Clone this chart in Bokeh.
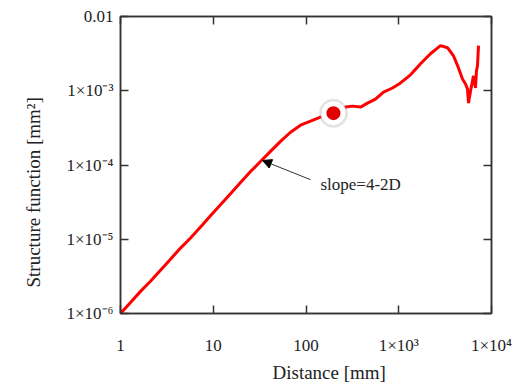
from bokeh.plotting import figure
from bokeh.models import LogAxis, FixedTicker, Arrow, NormalHead, Label, Title
from bokeh.embed import file_html
from bokeh.resources import INLINE

# ---- data ----
distance_mm = [1.0, 1.282, 1.644, 2.104, 2.698, 3.459, 4.436, 5.689, 7.295, 9.333,
               11.97, 15.35, 19.68, 25.23, 32.28, 41.40, 53.09, 68.08, 87.30, 111.9,
               143.2, 197.7, 266.7, 317.0, 387.3, 460.3, 561.0, 685.5, 857.0, 1045,
               1340, 1718, 2198, 2818, 3357, 3890, 4406, 4864, 5248, 5508,
               5649, 5943, 6237, 6397, 6714, 6887, 7063, 7244]
structure_fn = [1.0e-6, 1.409e-6, 1.986e-6, 2.716e-6, 3.828e-6, 5.395e-6, 7.603e-6, 1.040e-5, 1.466e-5, 2.065e-5,
                2.911e-5, 4.111e-5, 5.794e-5, 8.166e-5, 1.114e-4, 1.524e-4, 2.084e-4, 2.761e-4, 3.436e-4, 3.890e-4,
                4.406e-4, 4.989e-4, 6.026e-4, 6.209e-4, 6.026e-4, 6.823e-4, 7.727e-4, 9.616e-4, 1.089e-3, 1.274e-3,
                1.637e-3, 2.307e-3, 3.148e-3, 4.046e-3, 3.802e-3, 2.958e-3, 2.032e-3, 1.442e-3, 1.236e-3, 1.057e-3,
                6.823e-4, 9.931e-4, 1.355e-3, 1.585e-3, 1.089e-3, 1.854e-3, 2.168e-3, 4.046e-3]

marker_x = [197.7]
marker_y = [4.989e-4]

x_ticks = [1, 10, 100, 1000, 10000]
x_tick_labels = ["1", "10", "100", "1×10³", "1×10⁴"]
y_ticks = [1e-6, 1e-5, 1e-4, 1e-3, 1e-2]
y_tick_labels = ["1×10⁻⁶", "1×10⁻⁵", "1×10⁻⁴", "1×10⁻³", "0.01"]

x_title = "Distance [mm]"
y_title = "Structure function [mm²]"

arrow_start = (111.8, 6.35e-5)
arrow_end = (34.0, 1.15e-4)
note_pos = (143.0, 5.44e-5)
note_text = "slope=4-2D"

FONT = "Liberation Serif"
AXC = "#333333"
TXT = "#222222"

p = figure(width=519, height=385, x_axis_type="log", y_axis_type="log",
           x_range=(1, 10000), y_range=(1e-6, 1e-2),
           output_backend="svg", toolbar_location=None,
           min_border_left=120, min_border_right=28, min_border_top=16, min_border_bottom=72,
           background_fill_color="white", border_fill_color="white")
p.grid.visible = False
p.outline_line_color = AXC
p.outline_line_width = 1.5

p.xaxis.ticker = FixedTicker(ticks=x_ticks)
p.yaxis.ticker = FixedTicker(ticks=y_ticks)
p.xaxis.major_label_overrides = {t: l for t, l in zip(x_ticks, x_tick_labels)}
p.yaxis.major_label_overrides = {t: l for t, l in zip(y_ticks, y_tick_labels)}

for ax in (p.xaxis[0], p.yaxis[0]):
    ax.major_tick_in = 8
    ax.major_tick_out = 0
    ax.minor_tick_line_color = None
    ax.axis_line_color = AXC
    ax.axis_line_width = 1.5
    ax.major_tick_line_color = AXC
    ax.major_tick_line_width = 1.5
    ax.major_label_text_font = FONT
    ax.major_label_text_font_size = "17px"
    ax.major_label_text_color = TXT
p.xaxis.major_label_standoff = 22
p.yaxis.major_label_standoff = 7

top = LogAxis(ticker=FixedTicker(ticks=x_ticks))
right = LogAxis(ticker=FixedTicker(ticks=y_ticks))
for ax in (top, right):
    ax.major_tick_in = 8
    ax.major_tick_out = 0
    ax.minor_tick_line_color = None
    ax.axis_line_color = AXC
    ax.axis_line_width = 1.5
    ax.major_tick_line_color = AXC
    ax.major_tick_line_width = 1.5
    ax.major_label_text_font_size = "1px"
    ax.major_label_text_alpha = 0
    ax.major_label_standoff = 0
p.add_layout(top, "above")
p.add_layout(right, "right")

# axis titles, shifted along their axes as in the reference
p.add_layout(Title(text=x_title, align="left", offset=152, standoff=4,
                   text_font=FONT, text_font_size="19px", text_font_style="normal",
                   text_color=TXT), "below")
p.add_layout(Title(text=y_title, align="left", offset=26, standoff=40,
                   text_font=FONT, text_font_size="19px", text_font_style="normal",
                   text_color=TXT), "left")

p.line(distance_mm, structure_fn, line_color="#ff0000", line_width=3)

p.add_layout(Arrow(x_start=arrow_start[0], y_start=arrow_start[1],
                   x_end=arrow_end[0], y_end=arrow_end[1],
                   line_color="#333333", line_width=1,
                   end=NormalHead(size=9, fill_color="black", line_color="black")))
p.add_layout(Label(x=note_pos[0], y=note_pos[1], text=note_text, text_baseline="middle",
                   text_font=FONT, text_font_size="17px", text_color=TXT))

p.scatter(marker_x, marker_y, size=29, fill_color="#999999", fill_alpha=0.25, line_color=None)
p.scatter(marker_x, marker_y, size=25, fill_color="white", line_color="#dddddd", line_width=1)
p.scatter(marker_x, marker_y, size=14, fill_color="#e00000", line_color=None)

open("out.html", "w").write(file_html(p, INLINE))
